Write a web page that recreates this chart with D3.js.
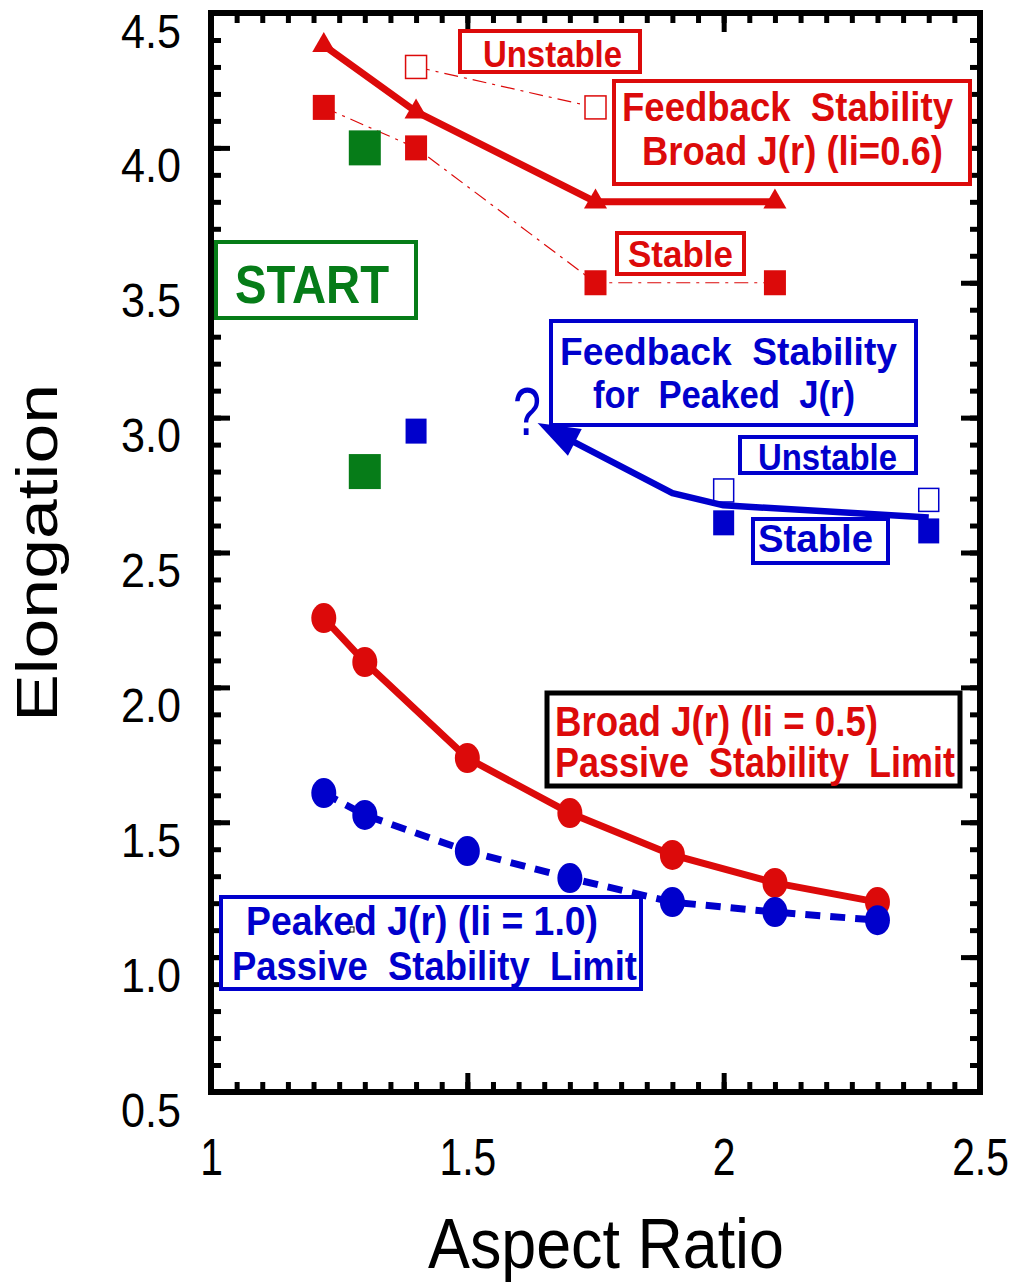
<!DOCTYPE html>
<html lang="en">
  <head>
    <meta charset="UTF-8" />
    <title>Elongation vs Aspect Ratio</title>
    <script src="https://d3js.org/d3.v7.min.js"></script>
    <style>
      body {
        margin: 0;
        background: #fff;
      }
      svg text {
        font-family: "Liberation Sans", Arial, Helvetica, sans-serif;
        white-space: pre;
      }
    </style>
  </head>
  <body>
    <div id="chart"></div>
    <script>
      // tick values
      const xTicks = [1, 1.5, 2, 2.5];
      const yTicks = [0.5, 1.0, 1.5, 2.0, 2.5, 3.0, 3.5, 4.0, 4.5];

      // passive stability limits (circles)
      const passiveAR = [1.22, 1.3, 1.5, 1.7, 1.9, 2.1, 2.3];
      const broadPassive = [2.257, 2.094, 1.738, 1.534, 1.379, 1.275, 1.204];
      const peakedPassive = [1.608, 1.527, 1.393, 1.293, 1.204, 1.167, 1.137];

      // feedback stability limit, broad J(r) (triangles)
      const fbBroadAR = [1.22, 1.4, 1.75, 2.1];
      const fbBroad = [4.38, 4.134, 3.8, 3.8];

      // broad J(r) runs: unstable (open) and stable (filled) squares
      const broadUnstableAR = [1.4, 1.75];
      const broadUnstable = [4.3, 4.15];
      const broadStableAR = [1.22, 1.4, 1.75, 2.1];
      const broadStable = [4.15, 4.0, 3.5, 3.5];

      // start points (green)
      const startAR = [1.3, 1.3];
      const startElong = [4.0, 2.8];

      // peaked J(r) runs
      const peakedStableAR = [1.4, 2.0, 2.4];
      const peakedStable = [2.95, 2.61, 2.58];
      const peakedUnstableAR = [2.0, 2.4];
      const peakedUnstable = [2.73, 2.695];

      // feedback trend for peaked J(r) (arrow)
      const peakedTrendAR = [2.4, 2.0, 1.9, 1.637];
      const peakedTrend = [2.63, 2.675, 2.72, 2.98];

      const red = "#dc0a0a";
      const blue = "#0000cc";
      const green = "#067c18";

      const W = 1016;
      const H = 1282;
      const pLeft = 211, pRight = 980, pTop = 13, pBottom = 1092;

      const svg = d3
        .select("#chart")
        .append("svg")
        .attr("width", W)
        .attr("height", H);

      const x = d3.scaleLinear().domain([1, 2.5]).range([pLeft, pRight]);
      const y = d3.scaleLinear().domain([0.5, 4.5]).range([pBottom, pTop]);

      const zip = (a, b) => a.map((v, i) => [v, b[i]]);
      const line = d3.line().x((d) => x(d[0])).y((d) => y(d[1]));

      function fit(sel, w) {
        sel.attr("textLength", w).attr("lengthAdjust", "spacingAndGlyphs");
      }

      // ---- axes (ticks point inward on all four sides) ----
      const yMinor = d3.range(5, 46).map((d) => d / 10);
      const xMinor = d3.range(20, 51).map((d) => d / 20);

      function styleAxis(g) {
        g.select(".domain").remove();
        g.selectAll(".tick line").attr("stroke", "#000").attr("stroke-width", 5);
      }

      const axes = svg.append("g");
      const addAxis = (axis, tx, ty) =>
        axes.append("g").attr("transform", `translate(${tx},${ty})`).call(axis).call(styleAxis);

      addAxis(d3.axisLeft(y).tickValues(yMinor).tickSize(-10).tickFormat(""), pLeft, 0);
      addAxis(d3.axisRight(y).tickValues(yMinor).tickSize(-10).tickFormat(""), pRight, 0);
      addAxis(d3.axisTop(x).tickValues(xMinor).tickSize(-10).tickFormat(""), 0, pTop);
      addAxis(d3.axisBottom(x).tickValues(xMinor).tickSize(-10).tickFormat(""), 0, pBottom);
      addAxis(d3.axisRight(y).tickValues(yTicks).tickSize(-19).tickFormat(""), pRight, 0);
      addAxis(d3.axisTop(x).tickValues(xTicks).tickSize(-19).tickFormat(""), 0, pTop);

      const yAxis = addAxis(
        d3.axisLeft(y).tickValues(yTicks).tickSize(-19).tickPadding(30).tickFormat(d3.format(".1f")),
        pLeft,
        0
      );
      yAxis
        .selectAll(".tick text")
        .attr("font-size", 49)
        .attr("fill", "#000")
        .attr("dy", null)
        .attr("y", 34)
        .each(function () {
          fit(d3.select(this), this.getComputedTextLength() * 0.88);
        });

      const xAxis = addAxis(
        d3.axisBottom(x).tickValues(xTicks).tickSize(-19).tickFormat(d3.format("")),
        0,
        pBottom
      );
      xAxis
        .selectAll(".tick text")
        .attr("font-size", 51)
        .attr("fill", "#000")
        .attr("dy", null)
        .attr("y", 83)
        .each(function () {
          fit(d3.select(this), this.getComputedTextLength() * 0.8);
        });

      svg
        .append("rect")
        .attr("x", pLeft)
        .attr("y", pTop)
        .attr("width", pRight - pLeft)
        .attr("height", pBottom - pTop)
        .attr("fill", "none")
        .attr("stroke", "#000")
        .attr("stroke-width", 6);

      // axis titles
      svg
        .append("text")
        .attr("transform", "translate(57,553) rotate(-90)")
        .attr("text-anchor", "middle")
        .attr("font-size", 58)
        .text("Elongation")
        .call(fit, 338);

      svg
        .append("text")
        .attr("x", 606)
        .attr("y", 1268)
        .attr("text-anchor", "middle")
        .attr("font-size", 70)
        .text("Aspect Ratio")
        .call(fit, 356);

      const plot = svg.append("g");

      // ---- thin dash-dot connectors between run squares ----
      plot
        .append("path")
        .datum(zip(broadUnstableAR, broadUnstable))
        .attr("d", line)
        .attr("fill", "none")
        .attr("stroke", red)
        .attr("stroke-width", 1.2)
        .attr("stroke-dasharray", "14,6,3,6");

      plot
        .append("path")
        .datum(zip(broadStableAR, broadStable))
        .attr("d", line)
        .attr("fill", "none")
        .attr("stroke", red)
        .attr("stroke-width", 1.2)
        .attr("stroke-dasharray", "14,6,3,6");

      // ---- feedback limit, broad J(r): triangles on thick line ----
      plot
        .append("path")
        .datum(zip(fbBroadAR, fbBroad))
        .attr("d", line)
        .attr("fill", "none")
        .attr("stroke", red)
        .attr("stroke-width", 7)
        .attr("stroke-linejoin", "round");

      plot
        .selectAll(".tri")
        .data(zip(fbBroadAR, fbBroad))
        .join("path")
        .attr("transform", (d) => `translate(${x(d[0])},${y(d[1])})`)
        .attr("d", d3.symbol(d3.symbolTriangle, 230))
        .attr("fill", red);

      // ---- squares ----
      function squares(ar, vals, w, h, fill, stroke, sw) {
        plot
          .append("g")
          .selectAll("rect")
          .data(zip(ar, vals))
          .join("rect")
          .attr("x", (d) => x(d[0]) - w / 2)
          .attr("y", (d) => y(d[1]) - h / 2)
          .attr("width", w)
          .attr("height", h)
          .attr("fill", fill)
          .attr("stroke", stroke)
          .attr("stroke-width", sw);
      }

      squares(broadUnstableAR, broadUnstable, 21, 23, "#fff", red, 1.5);
      squares(broadStableAR, broadStable, 22, 25, red, "none", 0);
      squares(startAR, startElong, 32, 35, green, "none", 0);
      squares(peakedUnstableAR, peakedUnstable, 20, 23, "#fff", blue, 1.5);
      squares(peakedStableAR, peakedStable, 21, 25, blue, "none", 0);

      // ---- peaked J(r) feedback trend with arrow head ----
      const trend = zip(peakedTrendAR, peakedTrend).map((d) => [x(d[0]), y(d[1])]);
      const tip = trend[trend.length - 1];
      const prev = trend[trend.length - 2];
      const len = Math.hypot(tip[0] - prev[0], tip[1] - prev[1]);
      const ux = (tip[0] - prev[0]) / len;
      const uy = (tip[1] - prev[1]) / len;
      const headLen = 42, headHalf = 15;
      const base = [tip[0] - headLen * ux, tip[1] - headLen * uy];
      const trendPts = trend.slice(0, -1).concat([[base[0] + 4 * ux, base[1] + 4 * uy]]);

      plot
        .append("path")
        .attr("d", d3.line()(trendPts))
        .attr("fill", "none")
        .attr("stroke", blue)
        .attr("stroke-width", 6.5)
        .attr("stroke-linejoin", "round");

      plot
        .append("path")
        .attr(
          "d",
          d3.line()([
            tip,
            [base[0] - headHalf * uy, base[1] + headHalf * ux],
            [base[0] + headHalf * uy, base[1] - headHalf * ux],
          ]) + "Z"
        )
        .attr("fill", blue);

      plot
        .append("text")
        .attr("x", 527)
        .attr("y", 435)
        .attr("text-anchor", "middle")
        .attr("font-size", 68)
        .attr("fill", blue)
        .text("?")
        .call(fit, 28);

      // ---- passive stability limits ----
      plot
        .append("path")
        .datum(zip(passiveAR, broadPassive))
        .attr("d", line)
        .attr("fill", "none")
        .attr("stroke", red)
        .attr("stroke-width", 7);

      plot
        .append("path")
        .datum(zip(passiveAR, peakedPassive))
        .attr("d", line)
        .attr("fill", "none")
        .attr("stroke", blue)
        .attr("stroke-width", 7)
        .attr("stroke-dasharray", "15,10");

      plot
        .append("g")
        .selectAll("ellipse")
        .data(zip(passiveAR, broadPassive))
        .join("ellipse")
        .attr("cx", (d) => x(d[0]))
        .attr("cy", (d) => y(d[1]))
        .attr("rx", 12.5)
        .attr("ry", 15)
        .attr("fill", red);

      plot
        .append("g")
        .selectAll("ellipse")
        .data(zip(passiveAR, peakedPassive))
        .join("ellipse")
        .attr("cx", (d) => x(d[0]))
        .attr("cy", (d) => y(d[1]))
        .attr("rx", 12.5)
        .attr("ry", 15)
        .attr("fill", blue);

      // ---- annotation boxes ----
      function box(x0, y0, x1, y1, color, sw, lines, textColor) {
        const g = svg.append("g");
        g.append("rect")
          .attr("x", x0)
          .attr("y", y0)
          .attr("width", x1 - x0)
          .attr("height", y1 - y0)
          .attr("fill", "#fff")
          .attr("stroke", color)
          .attr("stroke-width", sw);
        lines.forEach((l) => {
          g.append("text")
            .attr("x", l.x)
            .attr("y", l.y)
            .attr("font-size", l.size)
            .attr("font-weight", "bold")
            .attr("fill", textColor || color)
            .text(l.t)
            .call(fit, l.w);
        });
      }

      box(460, 31, 640, 72, red, 4, [{t: "Unstable", x: 483, y: 67, w: 139, size: 37}]);
      box(614, 81, 970, 184, red, 4, [
        {t: "Feedback  Stability", x: 622, y: 121, w: 331, size: 41},
        {t: "Broad J(r) (li=0.6)", x: 642, y: 165, w: 301, size: 41},
      ]);
      box(617, 233, 744, 274, red, 4, [{t: "Stable", x: 628, y: 267, w: 105, size: 37}]);
      box(216, 242, 416, 318, green, 4, [{t: "START", x: 235, y: 303, w: 154, size: 53}]);
      box(551, 321, 916, 425, blue, 4, [
        {t: "Feedback  Stability", x: 560, y: 365, w: 337, size: 39},
        {t: "for  Peaked  J(r)", x: 593, y: 408, w: 262, size: 39},
      ]);
      box(740, 437, 916, 473, blue, 4, [{t: "Unstable", x: 758, y: 470, w: 139, size: 36}]);
      box(753, 519, 888, 563, blue, 4, [{t: "Stable", x: 758, y: 552, w: 115, size: 38}]);
      box(
        547,
        693,
        960,
        786,
        "#000",
        5,
        [
          {t: "Broad J(r) (li = 0.5)", x: 555, y: 736, w: 323, size: 42},
          {t: "Passive  Stability  Limit", x: 555, y: 777, w: 400, size: 42},
        ],
        red
      );
      box(221, 897, 641, 989, blue, 4, [
        {t: "Peaked J(r) (li = 1.0)", x: 246, y: 935, w: 352, size: 41},
        {t: "Passive  Stability  Limit", x: 232, y: 980, w: 405, size: 41},
      ]);

      // small stray marker inside the peaked label
      svg
        .append("rect")
        .attr("x", 350)
        .attr("y", 927)
        .attr("width", 4)
        .attr("height", 5)
        .attr("fill", "#fff")
        .attr("stroke", "#000")
        .attr("stroke-width", 1);
    </script>
  </body>
</html>
